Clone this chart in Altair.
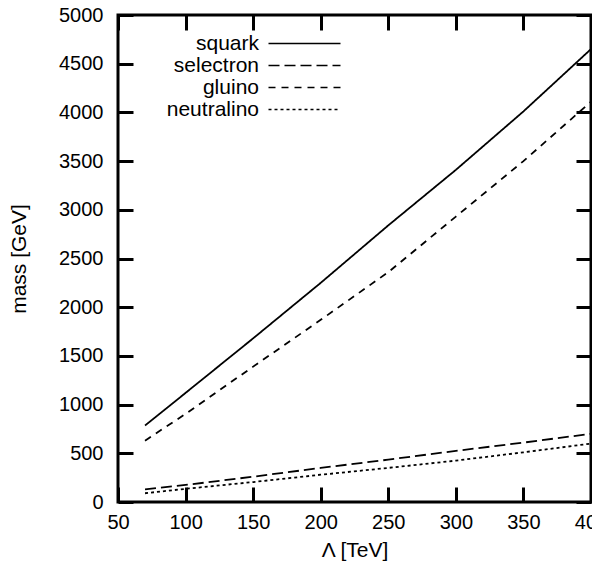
import altair as alt
import pandas as pd

# Lambda [TeV] sample points and masses [GeV]
lam = [70, 100, 150, 200, 250, 300, 350, 400]
squark = [785, 1120, 1680, 2250, 2840, 3410, 4010, 4650]
selectron = [130, 175, 260, 350, 435, 525, 610, 700]
gluino = [630, 905, 1390, 1870, 2360, 2930, 3500, 4110]
neutralino = [90, 135, 205, 280, 350, 425, 510, 600]

names = ["squark", "selectron", "gluino", "neutralino"]
dashes = [[1, 0], [11, 5], [7, 6], [3, 3]]

x_ticks = [50, 100, 150, 200, 250, 300, 350, 400]
y_ticks = [0, 500, 1000, 1500, 2000, 2500, 3000, 3500, 4000, 4500, 5000]

rows = []
for name, vals in zip(names, [squark, selectron, gluino, neutralino]):
    for l, v in zip(lam, vals):
        rows.append({"lam": l, "mass": v, "particle": name})
df = pd.DataFrame(rows)

FONT = "Liberation Sans"
xscale = alt.Scale(domain=[50, 400], nice=False, zero=False)
yscale = alt.Scale(domain=[0, 5000], nice=False)
inward = {"expr": "-15"}

common_axis = dict(
    tickSize=inward, tickWidth=3, tickColor="black", domain=False, grid=False,
    labelFont=FONT, labelFontSize=20, labelColor="black", format="d",
    titleFont=FONT, titleFontSize=21, titleFontWeight="normal", titleColor="black",
)

lines = alt.Chart(df).mark_line(color="black", strokeWidth=1.8).encode(
    x=alt.X("lam:Q", scale=xscale,
            axis=alt.Axis(orient="bottom", values=x_ticks, title="Λ [TeV]",
                          labelPadding=25.5, titlePadding=7, labelFlush=False,
                          labelOverlap=False, **common_axis)),
    y=alt.Y("mass:Q", scale=yscale,
            axis=alt.Axis(orient="left", values=y_ticks, title="mass [GeV]",
                          labelPadding=30, titlePadding=29, labelFlush=False,
                          labelOverlap=False, **common_axis)),
    strokeDash=alt.StrokeDash(
        "particle:N",
        scale=alt.Scale(domain=names, range=dashes),
        legend=alt.Legend(
            orient="none", legendX=176, legendY=18, title=None,
            symbolType="M-6,0H6", symbolSize=144, symbolStrokeWidth=1.5,
            symbolStrokeColor="black", symbolFillColor="transparent",
            labelAlign="right", labelOffset={"expr": "-56"},
            labelFont=FONT, labelFontSize=21, labelColor="black",
            rowPadding=0, padding=0,
        ),
    ),
    detail="particle:N",
)

frame_axes = alt.Chart(df).mark_line(opacity=0).encode(
    x=alt.X("lam:Q", scale=xscale,
            axis=alt.Axis(orient="top", values=x_ticks, labels=False, title=None,
                          **common_axis)),
    y=alt.Y("mass:Q", scale=yscale,
            axis=alt.Axis(orient="right", values=y_ticks, labels=False, title=None,
                          **common_axis)),
    detail="particle:N",
)

chart = alt.layer(lines, frame_axes).resolve_axis(
    x="independent", y="independent"
).properties(
    width=473, height=487,
    autosize=alt.AutoSizeParams(type="none"),
    padding={"left": 110, "top": 7, "right": 1, "bottom": 59},
    background="white",
).configure_view(stroke="black", strokeWidth=3)

chart.save("out.html", embed_options={"renderer": "svg", "actions": False})
